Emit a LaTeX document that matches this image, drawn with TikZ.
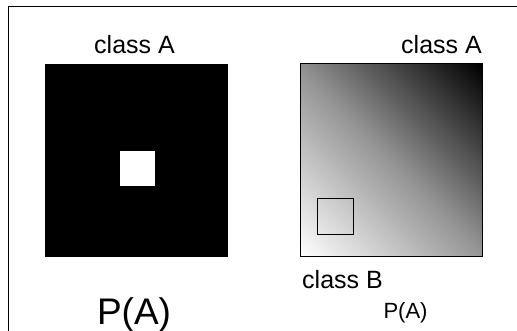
\documentclass[tikz,border=0pt]{standalone}
\usepackage{fontspec}
\setmainfont{Liberation Sans}
\usepackage{tikz}

% white-to-black ramp for the soft decision map
\pgfdeclareverticalshading{ramp}{100bp}{color(0bp)=(white); color(14.6bp)=(white);
    color(50bp)=(black!42); color(85.4bp)=(black); color(100bp)=(black)}

\tikzset{
    frame/.style={line width=1.5pt},
    label/.style={inner sep=0pt, anchor=base, font=\fontsize{25}{28}\selectfont},
    prob/.style={inner sep=0pt, anchor=base}
}

\begin{document}
\begin{tikzpicture}[x=1pt, y=-1pt]
    \useasboundingbox (0,0) rectangle (517,331);
    % open frame, runs off right and bottom
    \draw[frame] (8.5,331) |- (517,6.5);

    % hard decision: black square with white core
    \fill[black] (45,64) rectangle (228,257);
    \fill[white] (120,151) rectangle (155,186);
    \node[label] (hardA) at (134.5,54) {class A};
    \node[prob, font=\fontsize{37}{40}\selectfont] (hardP) at (134,324) {P(A)};

    % soft decision: diagonal gray ramp
    \shade[shading=ramp, shading angle=-45] (300,257) rectangle (482,64);
    \draw[line width=1pt] (300,64) rectangle (482,257);
    \draw[line width=1pt] (317,199) rectangle (353,235);
    \node[label, anchor=base east] (softA) at (482,54) {class A};
    \node[label, anchor=base west] (softB) at (302,288) {class B};
    \node[prob, font=\fontsize{22}{24}\selectfont] (softP) at (405.5,318) {P(A)};
\end{tikzpicture}
\end{document}
